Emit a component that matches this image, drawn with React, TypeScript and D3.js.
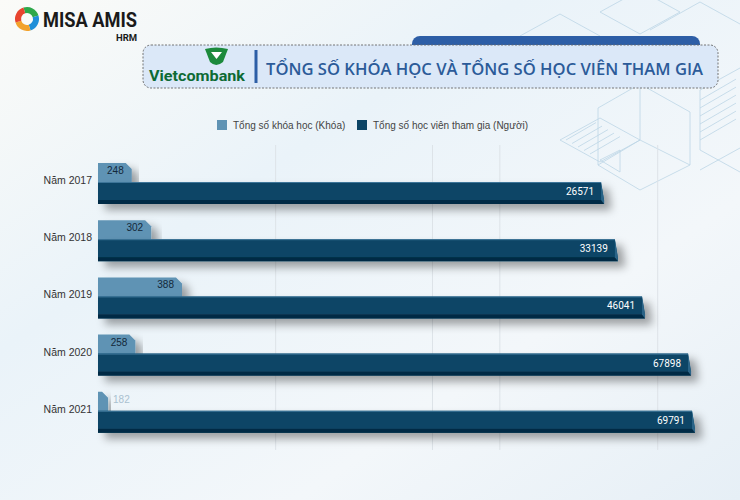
import React from "react";
import * as d3 from "d3";

const years = ["Năm 2017", "Năm 2018", "Năm 2019", "Năm 2020", "Năm 2021"];
const courses = [248, 302, 388, 258, 182];
const learners = [26571, 33139, 46041, 67898, 69791];
const legendLabels = ["Tổng số khóa học (Khóa)", "Tổng số học viên tham gia (Người)"];
const gridValues = [-161000, -128000, -53500, -21500, 53500];
const title = "TỔNG SỐ KHÓA HỌC VÀ TỔNG SỐ HỌC VIÊN THAM GIA";

const W = 740;
const H = 500;
const LIGHT = "#5f93b4";
const DARK = "#0c4566";
const DARK_EDGE = "#062c44";

// decorative isometric line art, top right
function Deco() {
  const s = "#bcd5e6";
  const hatch = (x: number, y: number, n: number, dx: number, dy: number, len: number, key: string) =>
    d3.range(n).map((i) => (
      <line key={key + i} x1={x + i * dx} y1={y + i * dy} x2={x + i * dx + len} y2={y + i * dy - len * 0.58} stroke={s} strokeWidth={0.8} />
    ));
  return (
    <g fill="none" stroke={s} strokeWidth={0.8}>
      <path d="M600,12 L640,-10 L680,12 L640,34 Z" />
      <path d="M650,30 L700,2 L740,24" />
      <path d="M520,36 L560,14 L600,36" />
      <path d="M598,108 L640,84 L690,112 L690,165 L640,190 L598,165 Z" />
      <path d="M640,84 L640,140 L690,165 M640,140 L598,165" />
      <path d="M700,90 L740,68 M700,90 L700,150 L740,172" />
      <path d="M560,140 L600,118 L640,140 L600,162 Z" />
      {hatch(566, 140, 5, 6, 3.5, 30, "a")}
      {hatch(700, 100, 6, 0, 8, 36, "b")}
      <path d="M600,160 L620,150 L620,172 Z" />
      <path d="M700,170 L740,148" />
    </g>
  );
}

function Logo() {
  const arc = d3.arc<any>().innerRadius(6).outerRadius(12);
  const cols = ["#2ea84a", "#1f8fd8", "#f2a22c", "#e8452f"];
  return (
    <g>
      <g transform="translate(27,19)">
        {cols.map((c, i) => (
          <path key={i} d={arc({ startAngle: (i * Math.PI) / 2 - 0.3, endAngle: ((i + 1) * Math.PI) / 2 - 0.3 }) || ""} fill={c} />
        ))}
      </g>
      <text x={43} y={27} fontFamily="Roboto, sans-serif" fontWeight={700} fontSize={19.5} fill="#1a1a1a" textLength={94} lengthAdjust="spacingAndGlyphs">
        MISA AMIS
      </text>
      <text x={116} y={41} fontFamily="Roboto, sans-serif" fontWeight={700} fontSize={9.5} fill="#1a1a1a">
        HRM
      </text>
    </g>
  );
}

function Banner() {
  return (
    <g>
      <rect x={412} y={36} width={288} height={30} rx={8} fill="#2d5ea6" />
      <rect x={143} y={45} width={575} height={43} rx={8} fill="#dbe8f8" stroke="#666" strokeWidth={0.9} strokeDasharray="2,1.5" />
      <path d="M205,49 Q216,46 228,49 L223,62 Q216,68 210,62 Z" fill="#1c8a3c" />
      <path d="M211,52 L222,52 L216.5,59 Z" fill="#ffffff" />
      <text x={149} y={81} fontFamily="Roboto, sans-serif" fontWeight={700} fontSize={15} fill="#0d6a34" textLength={96} lengthAdjust="spacingAndGlyphs">
        Vietcombank
      </text>
      <line x1={256} y1={50} x2={256} y2={83} stroke="#2d5ea6" strokeWidth={3} />
      <text x={266} y={75} fontFamily="'Open Sans', sans-serif" fontWeight={600} fontSize={17} fill="#2c5b99" textLength={437} lengthAdjust="spacingAndGlyphs">
        {title}
      </text>
    </g>
  );
}

export default function App() {
  const x = d3.scaleLinear().domain([-212400, 80000]).range([98, 713.5]);
  const xc = d3.scaleLinear().domain([154, 400]).range([98, 186.3]);
  const y = d3.scaleBand<string>().domain(years).range([155, 441]);

  return (
    <svg width={W} height={H} style={{ position: "absolute", left: 0, top: 0 }}>
      <defs>
        <linearGradient id="bg" x1="0" y1="0" x2="1" y2="1">
          <stop offset="0" stopColor="#fbfbf8" />
          <stop offset="0.35" stopColor="#eaf3f9" />
          <stop offset="0.7" stopColor="#f3f7fa" />
          <stop offset="1" stopColor="#e6eff6" />
        </linearGradient>
        <filter id="sh" x="-10%" y="-50%" width="130%" height="250%">
          <feDropShadow dx={7} dy={6} stdDeviation={4} floodColor="#000" floodOpacity={0.35} />
        </filter>
        <filter id="gsh" x="-200%" y="-10%" width="500%" height="120%">
          <feDropShadow dx={4} dy={0} stdDeviation={3} floodColor="#000" floodOpacity={0.3} />
        </filter>
      </defs>
      <rect width={W} height={H} fill="url(#bg)" />
      <Deco />
      <Logo />
      <Banner />

      {/* legend */}
      <g fontFamily="Arial, 'Liberation Sans', sans-serif" fontSize={10} fill="#444">
        <rect x={217} y={120} width={10} height={10} fill={LIGHT} />
        <text x={233} y={129}>{legendLabels[0]}</text>
        <rect x={357} y={120} width={10} height={10} fill={DARK} />
        <text x={373} y={129}>{legendLabels[1]}</text>
      </g>

      {/* gridlines */}
      {gridValues.map((v, i) => (
        <line
          key={v}
          x1={x(v)}
          x2={x(v)}
          y1={145}
          y2={450}
          stroke={i === 0 ? "#ffffff" : "#dde3e8"}
          strokeWidth={i === 0 ? 4 : 1}
          filter={i === 0 ? "url(#gsh)" : undefined}
        />
      ))}

      {years.map((yr, i) => {
        const b = y(yr) || 0;
        const lt = b + 8;
        const dt = b + 27;
        const x0 = x.range()[0];
        const cx1 = xc(courses[i]);
        const dx1 = x(learners[i]);
        const cw = cx1 - x0;
        const ch = Math.min(6, cw * 0.6);
        return (
          <g key={yr}>
            <text x={92} y={dt + 2} textAnchor="end" fontFamily="Arial, 'Liberation Sans', sans-serif" fontSize={10.5} fill="#333">
              {yr}
            </text>
            <path
              d={`M${x0},${lt} L${cx1 - ch},${lt} L${cx1},${lt + ch} L${cx1},${dt + 4} L${x0},${dt + 4} Z`}
              fill={LIGHT}
              filter="url(#sh)"
            />
            <text
              x={cw > 25 ? cx1 - 8 : cx1 + 5}
              y={lt + 11}
              textAnchor={cw > 25 ? "end" : "start"}
              fontFamily="Arial, 'Liberation Sans', sans-serif"
              fontSize={10}
              fill={cw > 25 ? "#13283a" : "#aac1d0"}
            >
              {courses[i]}
            </text>
            <g filter="url(#sh)">
              <path d={`M${x0},${dt} L${dx1},${dt} L${dx1 + 3},${dt + 18} L${dx1 + 3},${dt + 22} L${x0},${dt + 22} Z`} fill={DARK} />
              <rect x={x0} y={dt + 18} width={dx1 + 3 - x0} height={4} fill={DARK_EDGE} />
              <path d={`M${dx1},${dt} L${dx1 + 3},${dt + 18} L${dx1 + 3},${dt + 22} L${dx1},${dt + 18} Z`} fill="#2a6487" />
            </g>
            <line x1={x0} x2={dx1} y1={dt + 0.5} y2={dt + 0.5} stroke="#3d7599" strokeWidth={1} />
            <text
              x={dx1 - 7}
              y={dt + 13}
              textAnchor="end"
              fontFamily="Roboto, sans-serif"
              fontSize={10}
              fill="#ffffff"
            >
              {learners[i]}
            </text>
          </g>
        );
      })}
    </svg>
  );
}
